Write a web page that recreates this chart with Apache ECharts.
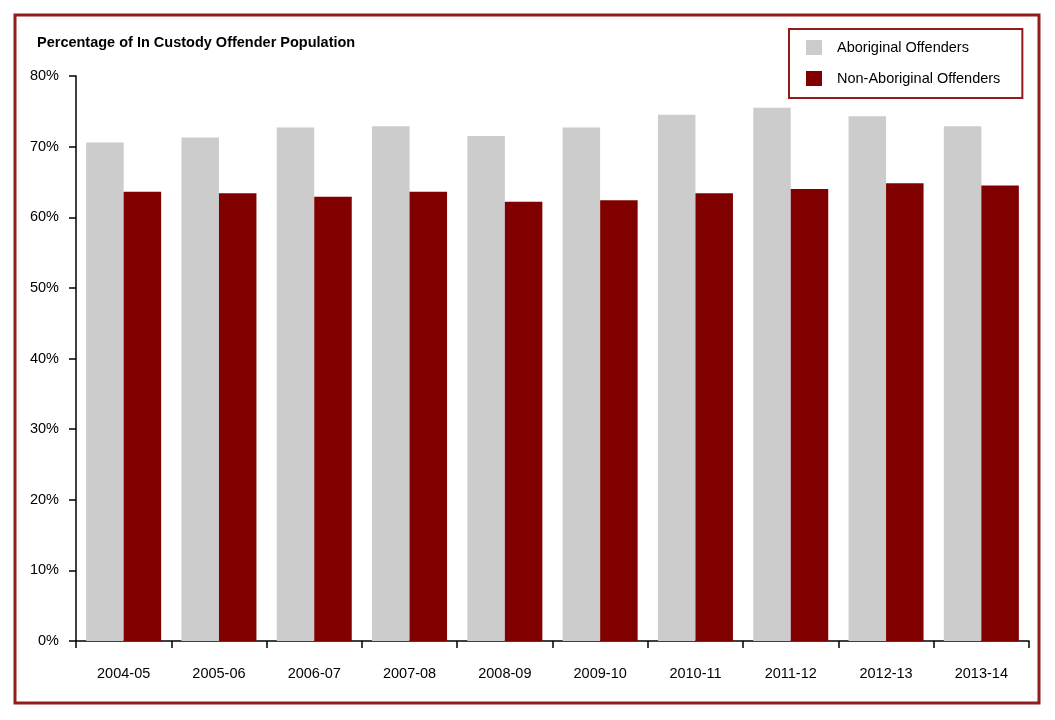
<!DOCTYPE html>
<html>
<head>
<meta charset="utf-8">
<script src="https://cdn.jsdelivr.net/npm/echarts@6/dist/echarts.min.js"></script>
<style>
  html, body { margin: 0; padding: 0; background: #fff; }
  #chart { width: 1055px; height: 720px; }
</style>
</head>
<body>
<div id="chart"></div>
<script>
const years = ['2004-05', '2005-06', '2006-07', '2007-08', '2008-09', '2009-10', '2010-11', '2011-12', '2012-13', '2013-14'];
const aboriginal = [70.6, 71.3, 72.7, 72.9, 71.5, 72.7, 74.5, 75.5, 74.3, 72.9];
const nonAboriginal = [63.6, 63.4, 62.9, 63.6, 62.2, 62.4, 63.4, 64.0, 64.8, 64.5];
const yTicks = [0, 10, 20, 30, 40, 50, 60, 70, 80];

// no narrow font available, so shrink the regular one to keep the widths
const FONT = "'Liberation Sans Narrow', 'Arial Narrow', 'Liberation Sans', Arial, sans-serif";
const FS = 14.5;

const chart = echarts.init(document.getElementById('chart'));

chart.setOption({
  animation: false,
  textStyle: { fontFamily: FONT },
  graphic: [{
    type: 'rect',
    shape: { x: 15, y: 15, width: 1024, height: 688 },
    style: { fill: 'none', stroke: '#931b1b', lineWidth: 3 },
    z: 0
  }],
  title: {
    text: 'Percentage of In Custody Offender Population',
    left: 37,
    top: 35,
    padding: 0,
    textStyle: { fontFamily: FONT, fontSize: FS, fontWeight: 'bold', color: '#000' }
  },
  legend: {
    orient: 'vertical',
    left: 789,
    top: 29,
    padding: [11, 22, 12, 17],
    itemWidth: 16,
    itemHeight: 15,
    itemGap: 16,
    borderColor: '#931b1b',
    borderWidth: 2,
    icon: 'rect',
    textStyle: { fontFamily: FONT, fontSize: FS, color: '#000', padding: [0, 0, 0, 10] },
    data: ['Aboriginal Offenders', 'Non-Aboriginal Offenders']
  },
  grid: { left: 76, right: 26, top: 76, bottom: 79, containLabel: false },
  xAxis: {
    type: 'category',
    data: years,
    axisLine: { lineStyle: { color: '#000', width: 1.5 } },
    axisTick: { show: true, length: 7, inside: false, lineStyle: { color: '#000', width: 1.5 } },
    axisLabel: { color: '#000', fontSize: FS, margin: 25, fontFamily: FONT }
  },
  yAxis: {
    type: 'value',
    min: yTicks[0],
    max: yTicks[yTicks.length - 1],
    interval: 10,
    axisLine: { show: true, lineStyle: { color: '#000', width: 1.5 } },
    axisTick: { show: true, length: 7, lineStyle: { color: '#000', width: 1.5 } },
    splitLine: { show: false },
    axisLabel: { color: '#000', fontSize: FS, margin: 17, fontFamily: FONT, formatter: '{value}%' }
  },
  series: [
    {
      name: 'Aboriginal Offenders',
      type: 'bar',
      data: aboriginal,
      barWidth: 37.5,
      barGap: '0%',
      itemStyle: { color: '#cccccc' }
    },
    {
      name: 'Non-Aboriginal Offenders',
      type: 'bar',
      data: nonAboriginal,
      barWidth: 37.5,
      barGap: '0%',
      itemStyle: { color: '#800000' }
    }
  ]
});

window.addEventListener('resize', () => chart.resize());
</script>
</body>
</html>
